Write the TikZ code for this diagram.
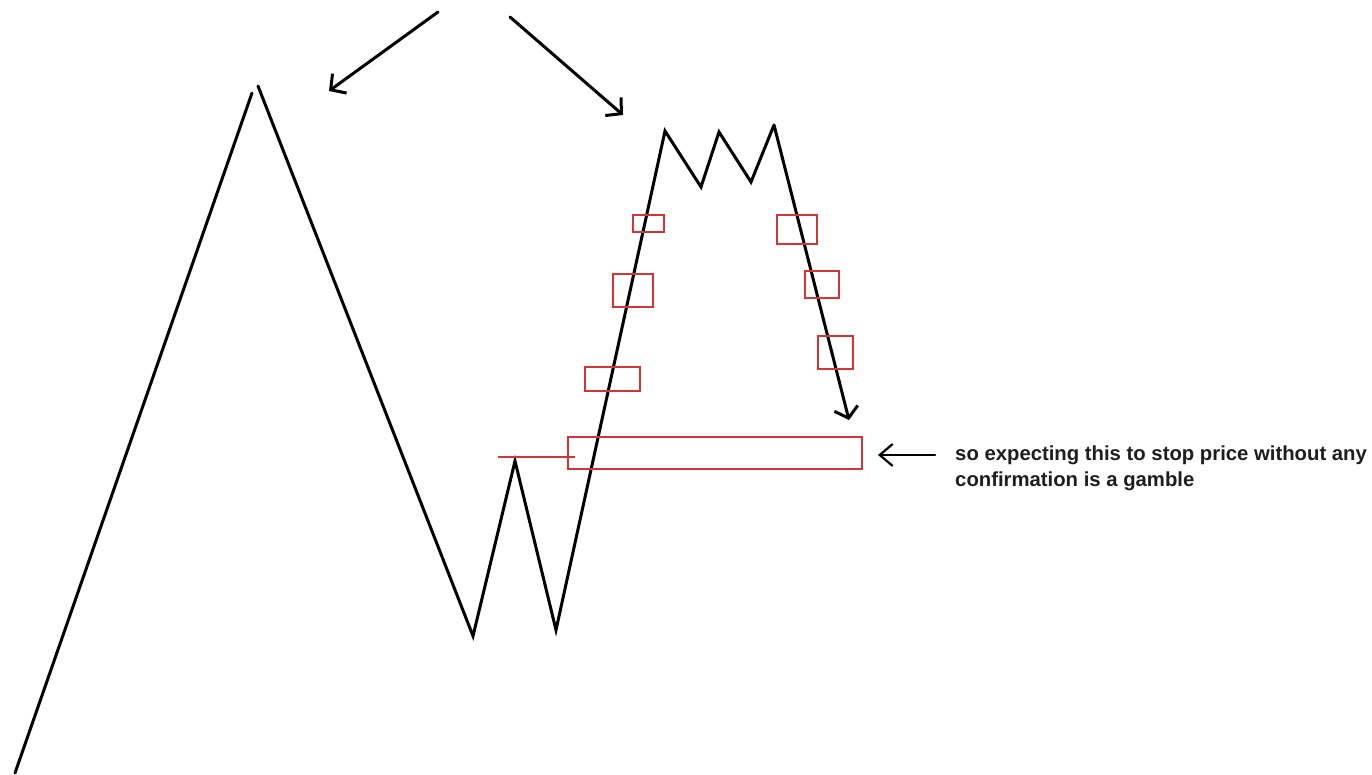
\documentclass[tikz,border=0pt]{standalone}
\usepackage{fontspec}
\setmainfont{Liberation Sans}
\usetikzlibrary{arrows.meta}
\begin{document}
\begin{tikzpicture}[x=1pt,y=-1pt,
  price/.style={line width=3pt,black,line join=miter,line cap=round},
  zone/.style={line width=2.2pt,draw={rgb,255:red,214;green,52;blue,52}},
  bigarr/.style={line width=3pt,black,line cap=round,-{Straight Barb[length=11pt,width=24pt,line width=3pt]}},
  lbl/.style={font=\bfseries\fontsize{20.3}{26}\selectfont,align=left,inner sep=0pt,text={rgb,255:red,30;green,30;blue,30}}]
\useasboundingbox[fill=white] (0,0) rectangle (1372,775);
% price path points
\coordinate (p0) at (15,773);
\coordinate (p1) at (252,93);
\coordinate (p1b) at (258,86);
\coordinate (p2) at (473,636);
\coordinate (p3) at (515,461);
\coordinate (p4) at (556,630);
\coordinate (p5) at (665,131);
\coordinate (p6) at (701,187);
\coordinate (p7) at (719,132);
\coordinate (p8) at (751,182);
\coordinate (p9) at (774,125);
\coordinate (p10) at (849,420);
% price lines
\draw[price] (p0) -- (p1);
\draw[price] (p1b) -- (p2) -- (p3) -- (p4) -- (p5) -- (p6) -- (p7) -- (p8) -- (p9);
\draw[price,-{Straight Barb[length=10pt,width=24pt,line width=3pt]}] (p9) -- (p10);
% top arrows
\coordinate (a1s) at (438,12);
\coordinate (a1e) at (329,91);
\coordinate (a2s) at (510,17);
\coordinate (a2e) at (623,115);
\draw[bigarr] (a1s) -- (a1e);
\draw[bigarr] (a2s) -- (a2e);
% red zones
\draw[zone] (633,215) rectangle (664,232);
\draw[zone] (613,274) rectangle (653,307);
\draw[zone] (585,367) rectangle (640,391);
\draw[zone] (777,215) rectangle (817,244);
\draw[zone] (805,271) rectangle (839,298);
\draw[zone] (818,336) rectangle (853,369);
\draw[zone] (568,437) rectangle (862,469);
\coordinate (h1) at (498,457);
\coordinate (h2) at (575,457);
\draw[zone] (h1) -- (h2);
% annotation
\coordinate (t1) at (935,455);
\coordinate (t2) at (878,455);
\draw[line width=2.2pt,line cap=round,-{Straight Barb[length=13pt,width=22pt,line width=2.2pt]}] (t1) -- (t2);
\node[lbl,anchor=north west] (note) at (955,446) {so expecting this to stop price without any\\confirmation is a gamble};
\end{tikzpicture}
\end{document}
